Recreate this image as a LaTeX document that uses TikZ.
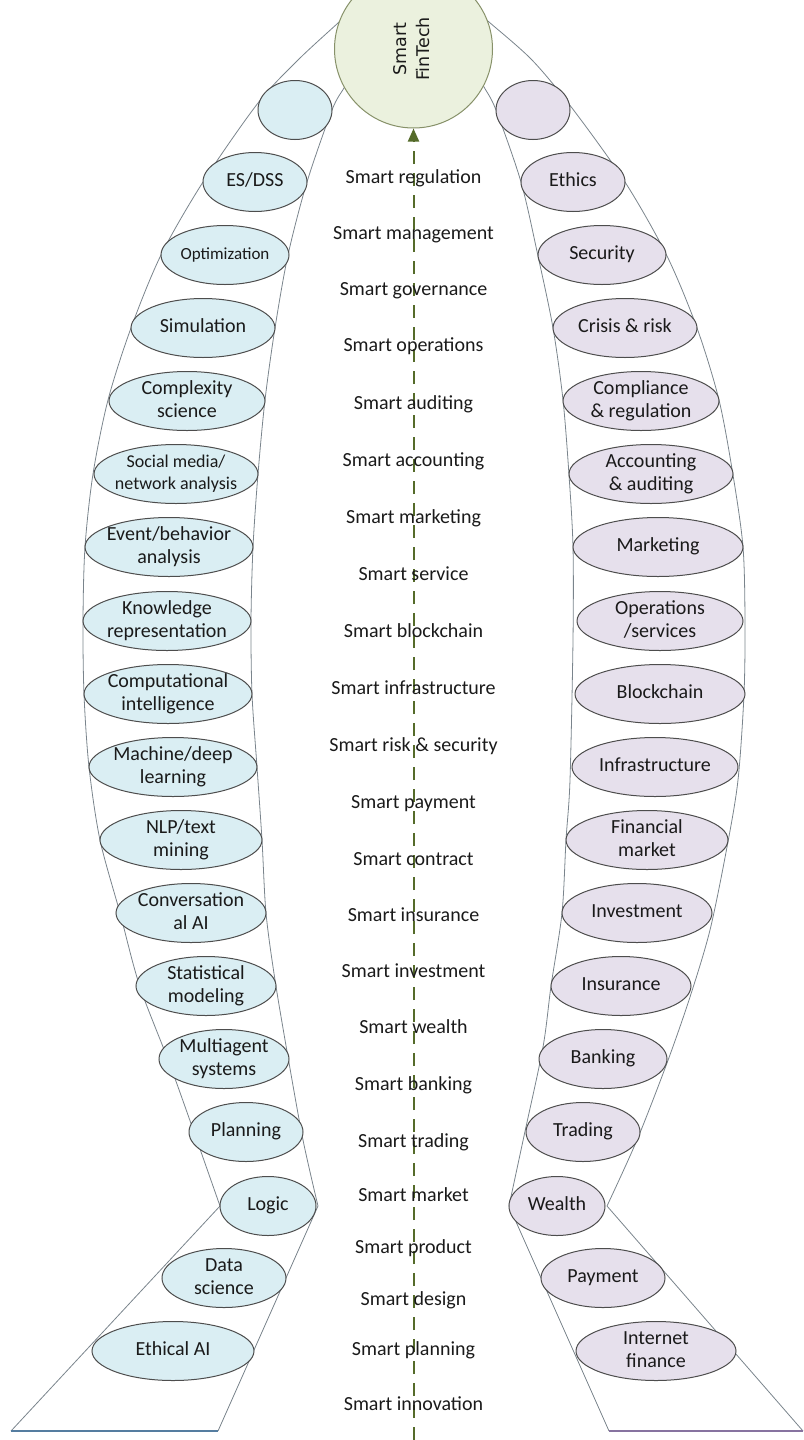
\documentclass[tikz,border=0pt]{standalone}
\usepackage{fontspec}
\setmainfont{Carlito}
\newfontfamily\ftfont{DejaVu Sans}
\usetikzlibrary{shapes.geometric,arrows.meta}
\definecolor{lfill}{HTML}{DAEEF3}
\definecolor{rfill}{HTML}{E6E0EC}
\definecolor{cfill}{HTML}{EBF1DE}
\definecolor{cdraw}{RGB}{135,145,105}
\definecolor{edraw}{HTML}{4D4D4D}
\definecolor{bandc}{HTML}{7A848C}
\definecolor{arrc}{HTML}{556B2A}
\definecolor{txtc}{HTML}{1A1A1A}
\definecolor{lbase}{RGB}{85,125,160}
\definecolor{rbase}{RGB}{135,115,160}
\begin{document}
\begin{tikzpicture}[x=1pt,y=-1pt,
  band/.style={draw=bandc, line width=0.8pt},
  ell/.style={ellipse, draw=edraw, line width=1pt, minimum height=59pt, inner sep=0pt},
  lell/.style={ell, fill=lfill},
  rell/.style={ell, fill=rfill},
  txt/.style={text=txtc, align=center, font=\fontsize{20}{23}\selectfont, inner sep=0pt},
  arr/.style={draw=arrc, line width=2pt, dash pattern=on 13pt off 9pt, -{Triangle[length=13pt,width=11pt]}},
  hub/.style={circle, draw=cdraw, fill=cfill, line width=1pt, minimum size=158pt, inner sep=0pt},
  hubtxt/.style={rotate=90, align=center, text=txtc, inner sep=0pt, font=\ftfont\fontsize{17.5}{23}\selectfont}
]
\useasboundingbox (0,0) rectangle (803,1440);

% ---- bands ----
\draw[band] plot[smooth, tension=0.5] coordinates {(352,10) (338,23) (298,60) (258,103) (203,182) (161,255) (131,328) (108,400) (93,474) (85,547) (83,621) (84,694) (89,767) (100,840) (120,913) (140,987) (173,1073) (220,1206)} -- (11,1431);
\draw[band] plot[smooth, tension=0.5] coordinates {(352,74) (344,88) (332,110) (307,182) (288,255) (275,328) (265,400) (258,474) (253,547) (251,621) (252,694) (257,767) (262,840) (266,913) (275,980) (288,1057) (303,1140) (318,1206)} -- (218,1431);
\draw[band] plot[smooth, tension=0.5] coordinates {(476,72) (484,87) (496,110) (521,182) (538,256) (553,328) (563,400) (569,475) (573,547) (573,640) (570,780) (566,840) (562,913) (551,986) (543,1047) (524,1136) (509,1206)} -- (609,1431);
\draw[band] plot[smooth, tension=0.5] coordinates {(475,10) (489,22) (532,60) (572,108) (625,182) (667,256) (697,328) (719,400) (733,475) (743,547) (745,621) (744,694) (738,780) (727,847) (710,930) (690,997) (667,1063) (637,1140) (607,1206)} -- (803,1431);
\draw[line width=2pt, draw=lbase] (11,1431) -- (218,1431);
\draw[line width=2pt, draw=rbase] (609,1431) -- (803,1431);

% ---- left ellipses ----
\node[lell, minimum width=74pt] (l0) at (295,110) {};
\node[lell, minimum width=104pt, label={[txt]center:{\strut ES/DSS}}] (l1) at (255,182) {};
\node[lell, minimum width=128pt, label={[txt,font=\fontsize{17}{20}\selectfont]center:{\strut Optimization}}] (l2) at (225,255) {};
\node[lell, minimum width=144pt, label={[txt]center:{\strut Simulation}}] (l3) at (203,328) {};
\node[lell, minimum width=156pt, label={[txt]center:{\strut Complexity\\\strut science}}] (l4) at (187,401) {};
\node[lell, minimum width=164pt, label={[txt,font=\fontsize{18}{22}\selectfont]center:{\strut Social media/\\\strut network analysis}}] (l5) at (176,474) {};
\node[lell, minimum width=168pt, label={[txt]center:{\strut Event/behavior\\\strut analysis}}] (l6) at (169,547) {};
\node[lell, minimum width=168pt, label={[txt]center:{\strut Knowledge\\\strut representation}}] (l7) at (167,621) {};
\node[lell, minimum width=168pt, label={[txt]center:{\strut Computational\\\strut intelligence}}] (l8) at (168,694) {};
\node[lell, minimum width=168pt, label={[txt]center:{\strut Machine/deep\\\strut learning}}] (l9) at (173,767) {};
\node[lell, minimum width=162pt, label={[txt]center:{\strut NLP/text\\\strut mining}}] (l10) at (181,840) {};
\node[lell, minimum width=150pt, label={[txt]center:{\strut Conversation\\\strut al AI}}] (l11) at (191,913) {};
\node[lell, minimum width=140pt, label={[txt]center:{\strut Statistical\\\strut modeling}}] (l12) at (206,986) {};
\node[lell, minimum width=130pt, label={[txt]center:{\strut Multiagent\\\strut systems}}] (l13) at (224,1059) {};
\node[lell, minimum width=114pt, label={[txt]center:{\strut Planning}}] (l14) at (246,1132) {};
\node[lell, minimum width=96pt, label={[txt]center:{\strut Logic}}] (l15) at (268,1206) {};
\node[lell, minimum width=124pt, label={[txt]center:{\strut Data\\\strut science}}] (l16) at (224,1278) {};
\node[lell, minimum width=162pt, label={[txt]center:{\strut Ethical AI}}] (l17) at (173,1351) {};

% ---- right ellipses ----
\node[rell, minimum width=74pt] (r0) at (533,110) {};
\node[rell, minimum width=104pt, label={[txt]center:{\strut Ethics}}] (r1) at (573,182) {};
\node[rell, minimum width=128pt, label={[txt]center:{\strut Security}}] (r2) at (602,255) {};
\node[rell, minimum width=144pt, label={[txt]center:{\strut Crisis \& risk}}] (r3) at (625,328) {};
\node[rell, minimum width=156pt, label={[txt]center:{\strut Compliance\\\strut \& regulation}}] (r4) at (641,401) {};
\node[rell, minimum width=164pt, label={[txt]center:{\strut Accounting\\\strut \& auditing}}] (r5) at (651,474) {};
\node[rell, minimum width=170pt, label={[txt]center:{\strut Marketing}}] (r6) at (658,547) {};
\node[rell, minimum width=166pt, label={[txt]center:{\strut Operations\\\strut /services}}] (r7) at (660,621) {};
\node[rell, minimum width=170pt, label={[txt]center:{\strut Blockchain}}] (r8) at (660,694) {};
\node[rell, minimum width=166pt, label={[txt]center:{\strut Infrastructure}}] (r9) at (655,767) {};
\node[rell, minimum width=162pt, label={[txt]center:{\strut Financial\\\strut market}}] (r10) at (647,840) {};
\node[rell, minimum width=150pt, label={[txt]center:{\strut Investment}}] (r11) at (637,913) {};
\node[rell, minimum width=140pt, label={[txt]center:{\strut Insurance}}] (r12) at (621,986) {};
\node[rell, minimum width=128pt, label={[txt]center:{\strut Banking}}] (r13) at (603,1059) {};
\node[rell, minimum width=114pt, label={[txt]center:{\strut Trading}}] (r14) at (583,1132) {};
\node[rell, minimum width=96pt, label={[txt]center:{\strut Wealth}}] (r15) at (557,1206) {};
\node[rell, minimum width=124pt, label={[txt]center:{\strut Payment}}] (r16) at (603,1278) {};
\node[rell, minimum width=160pt, label={[txt]center:{\strut Internet\\\strut finance}}] (r17) at (656,1351) {};

% ---- hub and arrow ----
\node[hub, label={[hubtxt]center:{\strut Smart\\\strut FinTech}}] (hub) at (413.5,49) {};
\coordinate (abot) at (413.5,1440);
\draw[arr] (abot) -- (hub.south);

% ---- center labels ----
\node[txt] (m1) at (413.5,179) {\strut Smart regulation};
\node[txt] (m2) at (413.5,235) {\strut Smart management};
\node[txt] (m3) at (413.5,291) {\strut Smart governance};
\node[txt] (m4) at (413.5,347) {\strut Smart operations};
\node[txt] (m5) at (413.5,405) {\strut Smart auditing};
\node[txt] (m6) at (413.5,462) {\strut Smart accounting};
\node[txt] (m7) at (413.5,519) {\strut Smart marketing};
\node[txt] (m8) at (413.5,576) {\strut Smart service};
\node[txt] (m9) at (413.5,633) {\strut Smart blockchain};
\node[txt] (m10) at (413.5,690) {\strut Smart infrastructure};
\node[txt] (m11) at (413.5,747) {\strut Smart risk \& security};
\node[txt] (m12) at (413.5,804) {\strut Smart payment};
\node[txt] (m13) at (413.5,861) {\strut Smart contract};
\node[txt] (m14) at (413.5,917) {\strut Smart insurance};
\node[txt] (m15) at (413.5,973) {\strut Smart investment};
\node[txt] (m16) at (413.5,1029) {\strut Smart wealth};
\node[txt] (m17) at (413.5,1086) {\strut Smart banking};
\node[txt] (m18) at (413.5,1143) {\strut Smart trading};
\node[txt] (m19) at (413.5,1197) {\strut Smart market};
\node[txt] (m20) at (413.5,1249) {\strut Smart product};
\node[txt] (m21) at (413.5,1301) {\strut Smart design};
\node[txt] (m22) at (413.5,1351) {\strut Smart planning};
\node[txt] (m23) at (413.5,1406) {\strut Smart innovation};
\end{tikzpicture}
\end{document}
